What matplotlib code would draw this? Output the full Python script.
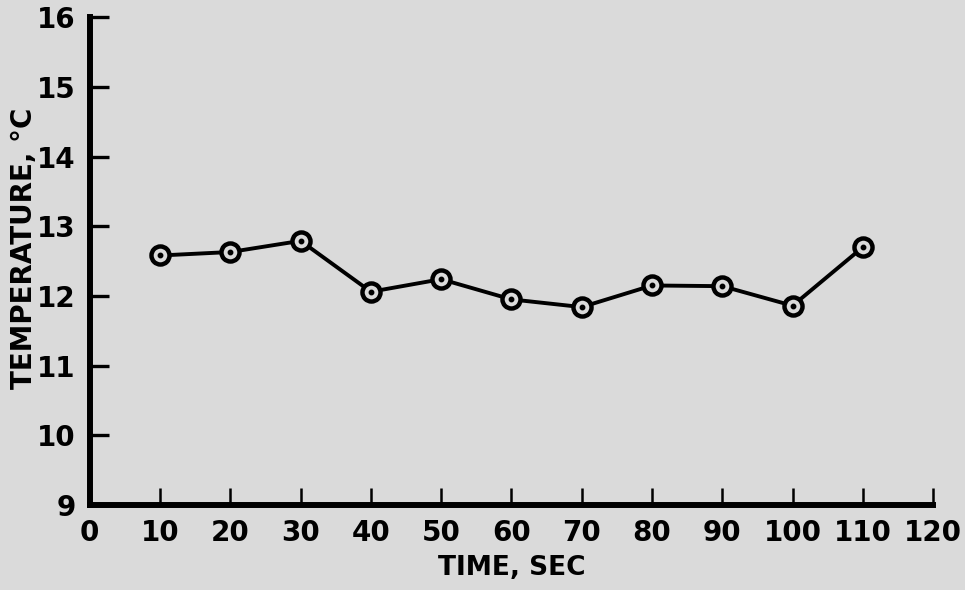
import matplotlib
matplotlib.use("Agg")
import matplotlib.pyplot as plt

# values
time_sec = [10, 20, 30, 40, 50, 60, 70, 80, 90, 100, 110]
temp_c = [12.58, 12.63, 12.79, 12.06, 12.24, 11.95, 11.84, 12.15, 12.14, 11.86, 12.70]

x_ticks = list(range(0, 121, 10))
y_ticks = list(range(9, 17))

bg = "#dadada"

plt.rcParams["font.family"] = ["DejaVu Sans"]
plt.rcParams["font.weight"] = "bold"

fig = plt.figure(figsize=(9.65, 5.9), dpi=100, facecolor=bg)
ax = fig.add_axes([0.093, 0.144, 0.874, 0.827], facecolor=bg)

ax.plot(time_sec, temp_c, color="black", linewidth=2.8, marker="o",
        markersize=13, markerfacecolor=bg, markeredgecolor="black",
        markeredgewidth=3.2, zorder=3)
ax.plot(time_sec, temp_c, linestyle="none", marker="o", markersize=3.2,
        color="black", zorder=4)

ax.set_xlim(0, 120)
ax.set_ylim(9, 16)
ax.set_xticks(x_ticks)
ax.set_yticks(y_ticks)

for side in ("top", "right"):
    ax.spines[side].set_visible(False)
for side in ("left", "bottom"):
    ax.spines[side].set_linewidth(4.3)
    ax.spines[side].set_color("black")

ax.tick_params(axis="x", direction="in", length=12, width=1.8, pad=10,
               labelsize=20)
ax.tick_params(axis="y", direction="in", length=14, width=2.4, pad=10,
               labelsize=20)
for lbl in ax.get_xticklabels() + ax.get_yticklabels():
    lbl.set_fontweight("bold")

ax.set_xlabel("TIME, SEC", fontsize=19, fontweight="bold", labelpad=6)
ax.set_ylabel("TEMPERATURE, °C", fontsize=20, fontweight="bold")
ax.yaxis.set_label_coords(-0.061, 0.527)

fig.savefig("out.png", dpi=100, facecolor=bg)
